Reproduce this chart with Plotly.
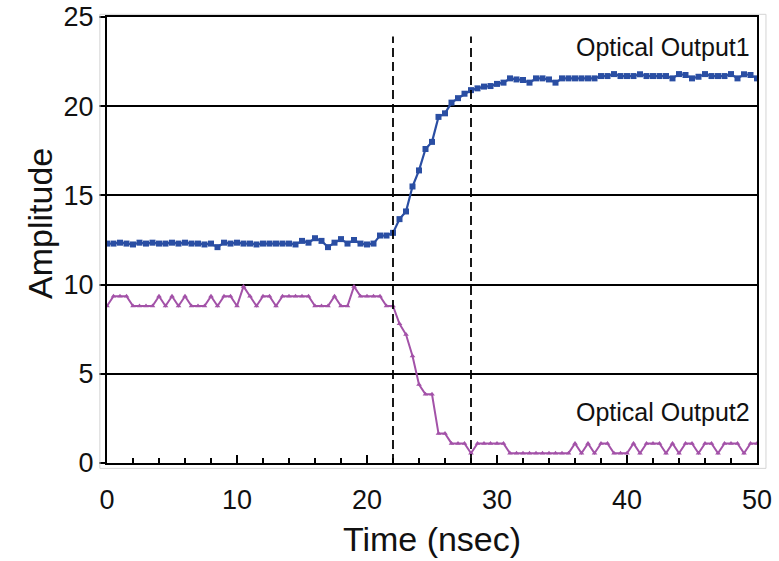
import plotly.graph_objects as go

# ---- data ----
t_step = 0.5
time_ns = [i * t_step for i in range(101)]

output1 = [
    12.3, 12.3, 12.35, 12.3, 12.25, 12.35, 12.3, 12.35, 12.3, 12.3,
    12.35, 12.3, 12.35, 12.3, 12.3, 12.25, 12.3, 12.1, 12.35, 12.3,
    12.35, 12.3, 12.3, 12.25, 12.3, 12.3, 12.3, 12.3, 12.3, 12.25,
    12.45, 12.35, 12.6, 12.45, 12.1, 12.35, 12.55, 12.3, 12.5, 12.3,
    12.25, 12.3, 12.75, 12.75, 12.9, 13.67, 14.1, 15.5, 16.4, 17.6,
    18.0, 19.4, 19.6, 20.2, 20.45, 20.7, 20.9, 21.0, 21.1, 21.13,
    21.25, 21.32, 21.56, 21.5, 21.47, 21.32, 21.56, 21.56, 21.5, 21.32,
    21.56, 21.56, 21.56, 21.56, 21.56, 21.56, 21.69, 21.69, 21.8, 21.69,
    21.69, 21.69, 21.79, 21.69, 21.69, 21.69, 21.69, 21.56, 21.8, 21.75,
    21.56, 21.65, 21.8, 21.69, 21.69, 21.69, 21.8, 21.56, 21.79, 21.75,
    21.56,
]

output2 = [
    8.8, 9.35, 9.35, 9.35, 8.8, 8.8, 8.8, 8.8, 9.35, 8.8,
    9.35, 8.8, 9.35, 8.8, 8.8, 8.8, 9.35, 8.8, 9.35, 9.35,
    8.8, 9.9, 9.35, 8.8, 9.35, 9.35, 8.8, 9.35, 9.35, 9.35,
    9.35, 9.35, 8.8, 8.8, 8.8, 9.35, 8.8, 8.8, 9.9, 9.35,
    9.35, 9.35, 9.35, 8.8, 8.8, 7.8, 7.2, 6.0, 4.4, 3.85,
    3.85, 1.65, 1.65, 1.1, 1.1, 1.1, 0.55, 1.1, 1.1, 1.1,
    1.1, 1.1, 0.55, 0.55, 0.55, 0.55, 0.55, 0.55, 0.55, 0.55,
    0.55, 0.55, 1.1, 0.55, 1.1, 0.55, 1.1, 1.1, 0.55, 0.55,
    0.55, 1.1, 0.55, 1.1, 1.1, 1.1, 0.55, 1.1, 0.55, 1.1,
    1.1, 0.55, 1.1, 1.1, 0.55, 1.1, 1.1, 1.1, 0.55, 1.1,
    1.1,
]

marker_times = [22, 28]
series_names = ["Optical Output1", "Optical Output2"]
label_y = [23.3, 2.85]
x_title = "Time (nsec)"
y_title = "Amplitude"

FONT = "Liberation Sans, Arial, sans-serif"
BLUE = "#2a4ea3"
PURPLE = "#a352a8"

fig = go.Figure()
fig.add_trace(go.Scatter(
    x=time_ns, y=output1, mode="lines+markers", name=series_names[0],
    line=dict(color=BLUE, width=2.2),
    marker=dict(symbol="square", size=6, color=BLUE),
))
fig.add_trace(go.Scatter(
    x=time_ns, y=output2, mode="lines+markers", name=series_names[1],
    line=dict(color=PURPLE, width=2),
    marker=dict(symbol="triangle-up", size=5, color=PURPLE),
))

for xt in marker_times:
    fig.add_shape(type="line", xref="x", yref="y", x0=xt, x1=xt, y0=0, y1=23.9,
                  line=dict(color="black", width=1.8, dash="9px,5px"))

# light grey outer frame
fig.add_shape(type="rect", xref="paper", yref="paper",
              x0=-0.011, x1=1.0138, y0=-0.012, y1=1.006,
              line=dict(color="#d4d4d4", width=1), layer="above")

for name, yy in zip(series_names, label_y):
    fig.add_annotation(x=49.6, y=yy, xref="x", yref="y", text=name,
                       showarrow=False, xanchor="right", yanchor="middle",
                       font=dict(family=FONT, size=25, color="#111"))

# y axis title placed as rotated text
fig.add_annotation(x=0, y=0.536, xref="paper", yref="paper", text=y_title,
                   textangle=-90, showarrow=False, xanchor="center", yanchor="middle",
                   xshift=-67, font=dict(family=FONT, size=34, color="#111"))

fig.update_layout(
    width=779, height=561,
    margin=dict(l=107, r=22, t=17, b=98),
    paper_bgcolor="white", plot_bgcolor="white",
    showlegend=False,
    font=dict(family=FONT, color="#111"),
)
fig.update_xaxes(
    range=[0, 50], dtick=10, tick0=0, automargin=False,
    ticks="inside", ticklen=8, tickwidth=1.5, tickcolor="black",
    minor=dict(ticks="inside", dtick=2, ticklen=5, tickwidth=1.5, tickcolor="black", showgrid=False),
    showgrid=False, zeroline=False,
    showline=True, linecolor="black", linewidth=2, mirror=True,
    tickfont=dict(family=FONT, size=27, color="#111"),
    ticklabelstandoff=12,
    title=dict(text=x_title, font=dict(family=FONT, size=34, color="#111"), standoff=13),
)
fig.update_yaxes(
    range=[0, 25], dtick=5, tick0=0, automargin=False,
    ticks="outside", ticklen=6, tickwidth=1.5, tickcolor="black",
    showgrid=True, gridcolor="black", gridwidth=1.8,
    zeroline=False,
    showline=True, linecolor="black", linewidth=2, mirror=True,
    tickfont=dict(family=FONT, size=27, color="#111"),
    ticklabelstandoff=0,
)

fig.write_html("out.html", config={"displayModeBar": False},
               post_script="document.body.style.margin='0';")
